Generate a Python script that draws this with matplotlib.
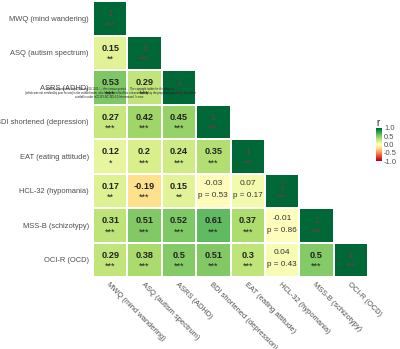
import matplotlib
matplotlib.use("Agg")
import matplotlib.pyplot as plt
import numpy as np

plt.rcParams['font.family'] = ['Liberation Sans', 'DejaVu Sans']

labels = ["MWQ (mind wandering)", "ASQ (autism spectrum)", "ASRS (ADHD)",
          "BDI shortened (depression)", "EAT (eating attitude)",
          "HCL-32 (hypomania)", "MSS-B (schizotypy)", "OCI-R (OCD)"]

# lower triangle, row by row (diagonal included)
r_rows = [
    [1],
    [0.15, 1],
    [0.53, 0.29, 1],
    [0.27, 0.42, 0.45, 1],
    [0.12, 0.2, 0.24, 0.35, 1],
    [0.17, -0.19, 0.15, -0.03, 0.07, 1],
    [0.31, 0.51, 0.52, 0.61, 0.37, -0.01, 1],
    [0.29, 0.38, 0.5, 0.51, 0.3, 0.04, 0.5, 1],
]
sig_rows = [
    ["***"],
    ["**", "***"],
    ["***", "***", "***"],
    ["***", "***", "***", "***"],
    ["*", "***", "***", "***", "***"],
    ["**", "***", "**", "p = 0.53", "p = 0.17", "***"],
    ["***", "***", "***", "***", "***", "p = 0.86", "***"],
    ["***", "***", "***", "***", "***", "p = 0.43", "***", "***"],
]
cbar_ticks = [1.0, 0.5, 0.0, -0.5, -1.0]

n = len(labels)
mat = np.full((n, n), np.nan)
for i, row in enumerate(r_rows):
    mat[i, :len(row)] = row
mat = np.ma.masked_invalid(mat)

fig = plt.figure(figsize=(4, 3.49), dpi=100)
W, H = 400, 349
ax = fig.add_axes([93 / W, 1 - 277 / H, 275 / W, 276 / H])
mesh = ax.pcolormesh(mat, cmap='RdYlGn', vmin=-1, vmax=1,
                     edgecolors='white', linewidth=0.35)
ax.set_xlim(0, n)
ax.set_ylim(n, 0)
ax.set_aspect('auto')
for s in ax.spines.values():
    s.set_visible(False)
ax.tick_params(length=0, pad=3)
ax.set_yticks(np.arange(n) + 0.5)
ax.set_yticklabels(labels, fontsize=5.4, color='#4d4d4d')
ax.set_xticks(np.arange(n) + 0.5)
ax.set_xticklabels(labels, fontsize=5.4, color='#4d4d4d', rotation=-45,
                   ha='left', va='top', rotation_mode='anchor')

fs = 6.6
for i, row in enumerate(r_rows):
    for j, v in enumerate(row):
        s = sig_rows[i][j]
        x, y = j + 0.5, i + 0.5
        if i == j:
            ax.text(x, y - 0.13, "1", ha='center', va='center', fontsize=fs,
                    color='#6e3a4e')
            ax.text(x, y + 0.2, s, ha='center', va='center', fontsize=fs,
                    color='#6e3a4e')
        elif s.startswith('p'):
            ax.text(x, y - 0.2, f"{v:g}", ha='center', va='center',
                    fontsize=6.0, color='#333333')
            ax.text(x, y + 0.15, s, ha='center', va='center', fontsize=5.9,
                    color='#333333')
        else:
            ax.text(x, y - 0.13, f"{v:g}", ha='center', va='center',
                    fontsize=fs, color='#222222', fontweight='bold')
            ax.text(x, y + 0.2, s, ha='center', va='center', fontsize=fs,
                    color='#222222')

cax = fig.add_axes([376 / W, 1 - 161 / H, 6 / W, 33 / H])
cb = fig.colorbar(mesh, cax=cax, ticks=cbar_ticks)
cb.outline.set_visible(False)
cb.ax.tick_params(length=0, pad=1.5, labelsize=5.4, labelcolor='#4d4d4d')
cb.ax.set_yticklabels([f"{t:.1f}" for t in cbar_ticks])
fig.text(376 / W, 1 - 123 / H, "r", fontsize=7, ha='left', va='center',
         color='#222222')

# preprint notice overlaid in the original
notice = ("bioRxiv preprint doi: https://doi.org/10.1101/...; this version posted ... "
          "The copyright holder for this preprint\n"
          "(which was not certified by peer review) is the author/funder, who has "
          "granted bioRxiv a license to display the preprint in perpetuity. It is made\n"
          "available under aCC-BY-NC-ND 4.0 International license.")
fig.text(110 / W, 1 - 93 / H, notice, fontsize=2.0, ha='center', va='center',
         color='#222222', linespacing=1.1)

fig.savefig("out.png", dpi=100)
